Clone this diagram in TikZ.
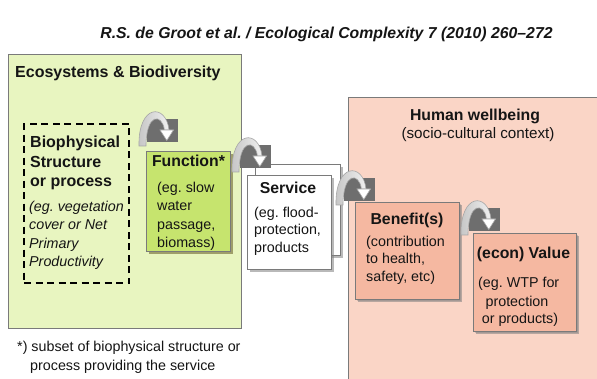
\documentclass[tikz,border=0pt]{standalone}
\usepackage{fontspec}
\setmainfont{Liberation Sans}
\usetikzlibrary{shadows}
\frenchspacing
\definecolor{greenbg}{HTML}{E8F5C0}
\definecolor{funcgreen}{HTML}{C6E46E}
\definecolor{pinkbg}{HTML}{FAD5C6}
\definecolor{salmon}{HTML}{F5B8A1}
\definecolor{boxline}{HTML}{7A7A7A}
\definecolor{iconsq}{HTML}{6E6E6E}
\definecolor{txt}{HTML}{151515}
\tikzset{
  area/.style={draw=boxline, line width=0.8pt, anchor=north west, inner sep=0pt},
  card/.style={draw=boxline, line width=0.7pt, anchor=north west, inner sep=0pt,
    drop shadow={shadow xshift=3pt, shadow yshift=-3pt, fill=gray, opacity=0.55}},
  hd/.style={anchor=base, inner sep=0pt, text=txt, font=\bfseries\fontsize{15.8}{19}\selectfont},
  hdl/.style={anchor=base west, inner sep=0pt, text=txt, font=\bfseries\fontsize{16}{19}\selectfont},
  bd/.style={anchor=base west, inner sep=0pt, text=txt, font=\fontsize{14.3}{17}\selectfont},
  bdc/.style={anchor=base, inner sep=0pt, text=txt, font=\fontsize{14.3}{17}\selectfont},
  it/.style={anchor=base west, inner sep=0pt, text=txt, font=\itshape\fontsize{14.3}{17}\selectfont},
  turn/.pic={
    \fill[iconsq] (0,0) rectangle (31,23);
    \draw[draw=gray!70, left color=gray!45, right color=gray!12, line width=0.6pt]
      (-8,27) .. controls (-9,-15) and (19,-16) .. (22,11) -- (17.5,11)
      .. controls (15,-6) and (-1,-6) .. (-1,27) -- cycle;
    \draw[draw=gray!70, fill=white, line width=0.6pt]
      (13,11) -- (26.5,11) -- (19.8,21.5) -- cycle;
  }
}
\begin{document}
\frenchspacing
\begin{tikzpicture}[x=1pt,y=-1pt]
\useasboundingbox (0,0) rectangle (597,379);
\clip (0,0) rectangle (597,379);
\fill[white] (0,0) rectangle (597,379);

% title
\node[anchor=base, inner sep=0pt, text=txt, font=\bfseries\itshape\fontsize{15.8}{19}\selectfont]
  (title) at (326.5,38.5) {R.S. de Groot et al. / Ecological Complexity 7 (2010) 260–272};

% large areas
\node[area, fill=greenbg, minimum width=233pt, minimum height=274pt] (eco) at (8,54) {};
\node[area, fill=pinkbg, minimum width=260pt, minimum height=300pt] (human) at (348,97) {};

\node[hdl] (ecot) at (15,77.5) {Ecosystems \& Biodiversity};
\node[hd] (hw1) at (475,120.5) {Human wellbeing};
\node[anchor=base, inner sep=0pt, text=txt, font=\fontsize{15.2}{18}\selectfont] (hw2) at (478,139) {(socio-cultural context)};

% biophysical dashed box
\node[draw=black, line width=2.2pt, dash pattern=on 7pt off 4.5pt, anchor=north west, inner sep=0pt,
  minimum width=105pt, minimum height=159pt] (bio) at (23,123) {};
\node[anchor=base west, inner sep=0pt, text=txt, font=\bfseries\fontsize{16}{19}\selectfont] (b1) at (30,147.5) {Biophysical};
\node[anchor=base west, inner sep=0pt, text=txt, font=\bfseries\fontsize{16}{19}\selectfont] (b2) at (30,167.5) {Structure};
\node[anchor=base west, inner sep=0pt, text=txt, font=\bfseries\fontsize{16}{19}\selectfont] (b3) at (30,187) {or process};
\node[it] (b4) at (29,211.5) {(eg. vegetation};
\node[it] (b5) at (29,230) {cover or Net};
\node[it] (b6) at (29,248.5) {Primary};
\node[it] (b7) at (29,267) {Productivity};

% function box
\node[card, fill=funcgreen, minimum width=84pt, minimum height=100pt,
  drop shadow={shadow xshift=2.5pt, shadow yshift=-2.5pt, fill=olive!60!gray, opacity=0.5}] (func) at (146,151) {};
\node[hd] (f0) at (188.5,166.5) {Function*};
\node[bd] (f1) at (157,192.5) {(eg. slow};
\node[bd] (f2) at (157,211) {water};
\node[bd] (f3) at (157,229.5) {passage,};
\node[bd] (f4) at (157,248) {biomass)};

% service boxes
\node[card, fill=white, minimum width=85pt, minimum height=91pt] (servback) at (255,164) {};
\node[card, fill=white, minimum width=84pt, minimum height=94pt] (serv) at (247,175) {};
\node[hd] (s0) at (288,193.5) {Service};
\node[bd] (s1) at (254,217.5) {(eg. flood-};
\node[bd] (s2) at (254,235) {protection,};
\node[bd] (s3) at (254,252.5) {products};

% benefit box
\node[card, fill=salmon, minimum width=104pt, minimum height=97pt,
  drop shadow={shadow xshift=1.5pt, shadow yshift=-1.5pt, fill=gray, opacity=0.35}] (ben) at (355,202) {};
\node[hd] (n0) at (407,224.5) {Benefit(s)};
\node[bd] (n1) at (366,246.5) {(contribution};
\node[bd] (n2) at (366,264) {to health,};
\node[bd] (n3) at (366,281.5) {safety, etc)};

% value box
\node[card, fill=salmon, minimum width=103pt, minimum height=98pt,
  drop shadow={shadow xshift=1.5pt, shadow yshift=-1.5pt, fill=gray, opacity=0.35}] (val) at (473,233) {};
\node[hd] (v0) at (523.5,258.5) {(econ) Value};
\node[bd] (v1) at (478,287.5) {(eg. WTP for};
\node[bdc] (v2) at (517,306) {protection};
\node[bdc] (v3) at (520,323.5) {or products)};

% turn icons
\pic at (147,119) {turn};
\pic at (240,145) {turn};
\pic at (344,178) {turn};
\pic at (469,208) {turn};

% footnote
\node[bd] (fn1) at (17,352) {*) subset of biophysical structure or};
\node[bd] (fn2) at (30,370.5) {process providing the service};
\end{tikzpicture}
\end{document}
